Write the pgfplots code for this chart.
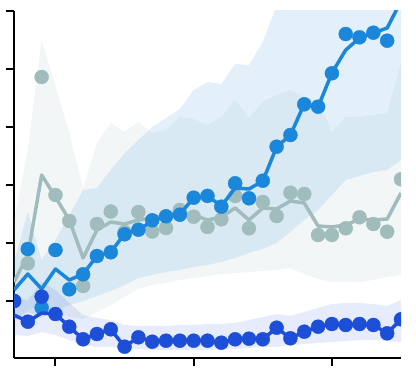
\documentclass[border=0pt]{standalone}
\usepackage{pgfplots}
\usepackage{pgfplotstable}
\pgfplotsset{compat=1.18}
\usepgfplotslibrary{fillbetween}
\definecolor{dkb}{RGB}{29,78,216}
\definecolor{mdb}{RGB}{27,135,218}
\definecolor{gry}{RGB}{160,188,188}
\pgfplotstableread{
i dp dl du dlo mp ml mu mlo gp gl gu glo
0 58 44 61 24 58 69 97 37 58 77 139 39
1 37.3 37.3 59 23 110 85 147 47 95.7 104 209 49
2 62.3 46 77 27 51.3 70 99 41 282 184 319 54
3 45 45 69 24 109 90 119 49 164 162 273 47
4 32.3 32.3 56 19 69.7 79 144 54 138 139 226 42
5 19.7 19.7 44 14 84.7 85 169 58 73 101 171 40
6 25 25 41 12 103 103 171 63 135 129 216 47
7 29.7 29.7 39 12 106.7 107 189 68 147.5 137 236 54
8 12.3 12.3 34 11 124.7 125 206 74 127 135 227 62
9 21.7 21.7 33 10 129.3 129 219 81 147 139 237 70
10 17.3 17.3 33 9 138.7 138 232 84 127.5 141 226 74
11 18.3 18.3 33 9 142.7 143 241 87 131 144 229 76
12 18.3 18.3 34 9 144.3 145 250 89 149 147 242 79
13 18.3 18.3 34 9 161.3 161 269 92 142.3 144 240 81
14 18.3 18.3 35 9 163.1 163 277 94 132 139 234 83
15 16.3 16.3 35 10 152.3 153 275 97 139.7 142 242 85
16 19.7 19.7 36 10 175.7 171 295 101 163 151 259 86
17 20.3 20.3 39 11 160.7 170 294 106 130.7 139 241 87
18 19.7 19.7 42 12 178.3 178 317 110 157 151 257 88
19 31.3 31.3 45 12 212.3 212 354 116 143 150 264 89
20 20.7 20.7 43 14 224 224 400 127 166.3 158 269 91
21 27.3 27.3 47 15 254.7 255 420 139 165 156 262 85
22 32.3 32.3 51 16 252.3 252 420 149 124 133 259 80
23 35 35 55 17 285.7 286 420 164 124 132 227 77
24 34 34 56 18 325 309 420 179 130.7 134 242 77
25 35 35 56 19 321.7 321 420 183 141.7 140 242 77
26 34 34 55 19 326.3 326 420 187 135 139 244 79
27 25.7 25.7 53 18 318.3 331 420 189 127.3 140 246 82
28 39.7 39.7 59 17 369 358 420 199 179.7 166 296 84
}\data
\begin{document}
\begin{tikzpicture}
\begin{axis}[
  at={(14pt,17pt)}, anchor=south west,
  scale only axis, width=387pt, height=347pt,
  xmin=0, xmax=28, ymin=1, ymax=348,
  axis x line=bottom, axis y line=left,
  axis line style={-, line width=2pt, black},
  xtick={3,13,23}, ytick={58,116,174,232,290,348},
  xticklabels={}, yticklabels={},
  tick align=outside, major tick length=8pt,
  tick style={line width=2pt, black},
  clip marker paths=true,
]
% bands
\addplot[name path=gU, draw=none, forget plot] table[x=i,y=gu]{\data};
\addplot[name path=gL, draw=none, forget plot] table[x=i,y=glo]{\data};
\addplot[fill=gry, fill opacity=0.135, draw=none] fill between[of=gU and gL];
\addplot[name path=mU, draw=none, forget plot] table[x=i,y=mu]{\data};
\addplot[name path=mL, draw=none, forget plot] table[x=i,y=mlo]{\data};
\addplot[fill=mdb, fill opacity=0.12, draw=none] fill between[of=mU and mL];
\addplot[name path=dU, draw=none, forget plot] table[x=i,y=du]{\data};
\addplot[name path=dL, draw=none, forget plot] table[x=i,y=dlo]{\data};
\addplot[fill=dkb, fill opacity=0.11, draw=none] fill between[of=dU and dL];
% gray
\addplot[gry, line width=3.5pt, no marks, line join=round] table[x=i,y=gl]{\data};
\addplot[gry, only marks, mark=*, mark size=7pt, mark options={fill=gry, draw=none}] table[x=i,y=gp]{\data};
% medium
\addplot[mdb, line width=3.5pt, no marks, line join=round] table[x=i,y=ml]{\data};
\addplot[mdb, only marks, mark=*, mark size=7pt, mark options={fill=mdb, draw=none}] table[x=i,y=mp]{\data};
% dark
\addplot[dkb, line width=3.5pt, no marks, line join=round] table[x=i,y=dl]{\data};
\addplot[dkb, only marks, mark=*, mark size=7pt, mark options={fill=dkb, draw=none}] table[x=i,y=dp]{\data};
\end{axis}
\pgfresetboundingbox
\useasboundingbox (0pt,0pt) rectangle (416pt,375pt);
\end{tikzpicture}
\end{document}
